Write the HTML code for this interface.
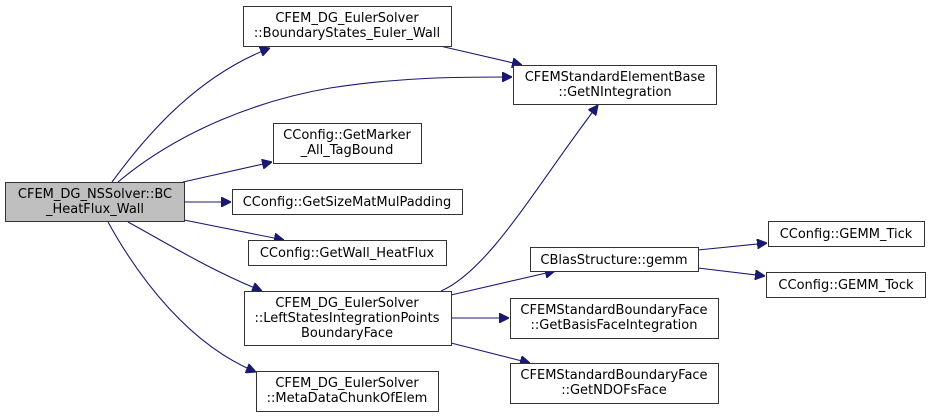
<!DOCTYPE html>
<html><head><meta charset="utf-8"><style>
html,body{margin:0;padding:0;background:#fff;}
svg{display:block;}
text{font-family:"DejaVu Sans","Liberation Sans",sans-serif;font-size:13px;fill:#000;text-anchor:middle;}
rect{fill:#fff;stroke:#333;stroke-width:1;}
path{fill:none;stroke:#191970;stroke-width:1.1;}
</style></head><body>
<svg width="931" height="417" viewBox="0 0 931 417" xmlns="http://www.w3.org/2000/svg">
<defs><marker id="a" viewBox="0 0 10 10" refX="10" refY="5" markerWidth="10" markerHeight="10" markerUnits="userSpaceOnUse" orient="auto"><path d="M0,0 L10,5 L0,10 z" style="fill:#191970;stroke:#191970"/></marker></defs>
<path d="M112,182 C150,130 200,75 270,48" marker-end="url(#a)"/>
<path d="M118,182 C180,130 260,100 330,88 C400,77 460,77 512,77" marker-end="url(#a)"/>
<path d="M440,46 L522,65" marker-end="url(#a)"/>
<path d="M183,182 L272,162" marker-end="url(#a)"/>
<path d="M184,202 L231,202" marker-end="url(#a)"/>
<path d="M184,220 L284,240" marker-end="url(#a)"/>
<path d="M128,222 C170,245 210,270 262,291" marker-end="url(#a)"/>
<path d="M108,222 C140,280 190,345 256,372" marker-end="url(#a)"/>
<path d="M441,291 C490,270 540,180 598,105" marker-end="url(#a)"/>
<path d="M451,295 L555,271" marker-end="url(#a)"/>
<path d="M451,318 L509,318" marker-end="url(#a)"/>
<path d="M451,343 L530,363" marker-end="url(#a)"/>
<path d="M698,250 L767,243" marker-end="url(#a)"/>
<path d="M698,268 L765,276" marker-end="url(#a)"/>

<rect x="5.5" y="182.5" width="179" height="39" style="fill:#bfbfbf"/>
<text x="95" y="198">CFEM_DG_NSSolver::BC</text><text x="95" y="213">_HeatFlux_Wall</text>

<rect x="243.5" y="6.5" width="208" height="40"/>
<text x="347" y="22">CFEM_DG_EulerSolver</text><text x="347" y="37">::BoundaryStates_Euler_Wall</text>

<rect x="513.5" y="65.5" width="203" height="39"/>
<text x="615" y="81">CFEMStandardElementBase</text><text x="615" y="96">::GetNIntegration</text>

<rect x="273.5" y="123.5" width="148" height="40"/>
<text x="347" y="139">CConfig::GetMarker</text><text x="347" y="154">_All_TagBound</text>

<rect x="232.5" y="189.5" width="230" height="25"/>
<text x="347" y="206">CConfig::GetSizeMatMulPadding</text>

<rect x="248.5" y="240.5" width="198" height="25"/>
<text x="347" y="257">CConfig::GetWall_HeatFlux</text>

<rect x="244.5" y="291.5" width="207" height="54"/>
<text x="347" y="307">CFEM_DG_EulerSolver</text><text x="347" y="322">::LeftStatesIntegrationPoints</text><text x="347" y="337">BoundaryFace</text>

<rect x="256.5" y="371.5" width="182" height="40"/>
<text x="347" y="387">CFEM_DG_EulerSolver</text><text x="347" y="402">::MetaDataChunkOfElem</text>

<rect x="530.5" y="247.5" width="168" height="24"/>
<text x="614" y="264">CBlasStructure::gemm</text>

<rect x="768.5" y="221.5" width="156" height="25"/>
<text x="846" y="238">CConfig::GEMM_Tick</text>

<rect x="766.5" y="272.5" width="159" height="25"/>
<text x="846" y="289">CConfig::GEMM_Tock</text>

<rect x="510.5" y="298.5" width="208" height="40"/>
<text x="614" y="314">CFEMStandardBoundaryFace</text><text x="614" y="329">::GetBasisFaceIntegration</text>

<rect x="510.5" y="363.5" width="208" height="40"/>
<text x="614" y="379">CFEMStandardBoundaryFace</text><text x="614" y="394">::GetNDOFsFace</text>
</svg>
</body></html>
